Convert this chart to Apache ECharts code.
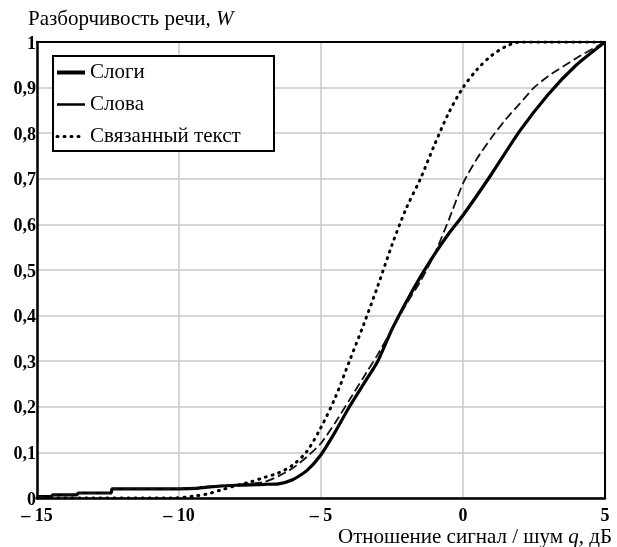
<!DOCTYPE html>
<html>
<head>
<meta charset="utf-8">
<script src="https://cdn.jsdelivr.net/npm/echarts@6/dist/echarts.min.js"></script>
<style>
html,body{margin:0;padding:0;background:#fff;}
#chart{width:617px;height:547px;}
</style>
</head>
<body>
<div id="chart"></div>
<script>
// ---- data ----
const seriesNames = ['Слоги', 'Слова', 'Связанный текст'];

const slogiX = [-15, -14.5, -14.45, -13.6, -13.55, -12.4, -12.35, -11, -10, -9.4, -9, -8, -7, -6.5, -6, -5.5, -5, -4.5, -4, -3.5, -3, -2.5, -2, -1.5, -1, -0.5, 0, 1, 2, 3, 4, 5];
const slogiY = [0.003, 0.003, 0.007, 0.007, 0.011, 0.011, 0.02, 0.02, 0.02, 0.021, 0.024, 0.028, 0.03, 0.031, 0.04, 0.06, 0.095, 0.145, 0.2, 0.25, 0.3, 0.37, 0.43, 0.485, 0.535, 0.58, 0.62, 0.71, 0.805, 0.885, 0.95, 1.0];

const slovaX = [-15, -14.5, -14.45, -13.6, -13.55, -12.4, -12.35, -11, -10, -9.4, -9, -8, -7, -6.5, -6, -5.5, -5, -4.5, -4, -3.5, -3, -2.5, -2, -1.5, -1, -0.5, 0, 0.5, 1, 1.5, 2, 2.5, 3, 4, 5];
const slovaY = [0.003, 0.003, 0.007, 0.007, 0.011, 0.011, 0.02, 0.02, 0.02, 0.022, 0.025, 0.029, 0.035, 0.048, 0.065, 0.09, 0.12, 0.165, 0.215, 0.265, 0.315, 0.37, 0.425, 0.475, 0.535, 0.61, 0.69, 0.745, 0.79, 0.83, 0.865, 0.9, 0.925, 0.965, 1.0];

const tekstX = [-15, -10.2, -9.5, -9, -8.5, -8, -7.5, -7, -6.5, -6, -5.5, -5, -4.5, -4, -3.5, -3, -2.5, -2, -1.5, -1, -0.5, 0, 0.5, 1, 1.5, 2, 3, 4, 5];
const tekstY = [0, 0, 0.004, 0.009, 0.018, 0.027, 0.035, 0.045, 0.055, 0.072, 0.102, 0.155, 0.22, 0.3, 0.38, 0.465, 0.555, 0.635, 0.7, 0.775, 0.845, 0.9, 0.94, 0.97, 0.99, 1.0, 1.0, 1.0, 1.0];

const xTickValues = [-15, -10, -5, 0, 5];
const xTickLabels = ['– 15', '– 10', '– 5', '0', '5'];
const yTickLabels = ['0', '0,1', '0,2', '0,3', '0,4', '0,5', '0,6', '0,7', '0,8', '0,9', '1'];

const yTitle = 'Разборчивость речи, ';
const yTitleVar = 'W';
const xTitle = 'Отношение сигнал / шум ';
const xTitleVar = 'q';
const xTitleUnit = ', дБ';

// ---- chart ----
const FONT = '"Liberation Serif", "Times New Roman", serif';
const FS = 21;
const pair = (xs, ys) => xs.map((x, i) => [x, ys[i]]);

const chart = echarts.init(document.getElementById('chart'), null, {renderer: 'canvas'});

const richStyle = {
  a: {fontFamily: FONT, fontSize: FS, color: '#000', fontWeight: 'normal'},
  b: {fontFamily: FONT, fontSize: FS, color: '#000', fontWeight: 'normal', fontStyle: 'italic'}
};

chart.setOption({
  animation: false,
  backgroundColor: '#fff',
  title: [
    {
      text: '{a|' + yTitle + '}{b|' + yTitleVar + '}',
      left: 28, top: 9, padding: 0,
      textStyle: {fontWeight: 'normal', fontFamily: FONT, fontSize: FS, rich: richStyle}
    },
    {
      text: '{a|' + xTitle + '}{b|' + xTitleVar + '}{a|' + xTitleUnit + '}',
      right: 5, top: 527, padding: 0,
      textStyle: {fontWeight: 'normal', fontFamily: FONT, fontSize: FS, rich: richStyle}
    }
  ],
  grid: {left: 37, right: 12, top: 42, bottom: 49, show: false},
  xAxis: [
    {
      type: 'value', min: -15, max: 5, interval: 5,
      axisLine: {show: true, onZero: false, lineStyle: {color: '#000', width: 2.5}},
      axisTick: {show: false},
      splitLine: {show: true, lineStyle: {color: '#c8c8c8', width: 1.5}},
      axisLabel: {
        margin: 9, color: '#000', fontFamily: FONT, fontSize: 18, fontWeight: 'bold',
        formatter: v => { const i = xTickValues.indexOf(Math.round(v)); return i >= 0 ? xTickLabels[i] : ''; }
      }
    },
    {
      type: 'value', position: 'top', min: -15, max: 5, interval: 5,
      axisLine: {show: true, onZero: false, lineStyle: {color: '#000', width: 2}},
      axisTick: {show: false}, axisLabel: {show: false}, splitLine: {show: false}
    }
  ],
  yAxis: [
    {
      type: 'value', min: 0, max: 1, interval: 0.1,
      axisLine: {show: true, onZero: false, lineStyle: {color: '#000', width: 2.5}},
      axisTick: {show: false},
      splitLine: {show: true, lineStyle: {color: '#c8c8c8', width: 1.5}},
      axisLabel: {
        margin: 1, color: '#000', fontFamily: FONT, fontSize: 18, fontWeight: 'bold',
        verticalAlign: 'top', padding: [-7, 0, 0, 0],
        formatter: v => yTickLabels[Math.round(v * 10)]
      }
    },
    {
      type: 'value', position: 'right', min: 0, max: 1, interval: 0.1,
      axisLine: {show: true, onZero: false, lineStyle: {color: '#000', width: 2}},
      axisTick: {show: false}, axisLabel: {show: false}, splitLine: {show: false}
    }
  ],
  graphic: [{
    type: 'rect', left: 52, top: 55, z: 10,
    shape: {width: 221, height: 95},
    style: {fill: '#fff', stroke: '#000', lineWidth: 2}
  }],
  legend: {
    z: 20,
    orient: 'vertical', left: 53, top: 60,
    padding: 2,
    itemWidth: 28, itemHeight: 14, itemGap: 11,
    itemStyle: {opacity: 0},
    textStyle: {fontFamily: FONT, fontSize: FS, color: '#000'},
    data: [
      {name: seriesNames[0], lineStyle: {width: 4, type: 'solid', color: '#000'}},
      {name: seriesNames[1], lineStyle: {width: 2.5, type: 'solid', color: '#000'}},
      {name: seriesNames[2], lineStyle: {width: 3, type: [1, 6], cap: 'round', color: '#000'}}
    ]
  },
  series: [
    {
      name: seriesNames[0], type: 'line', data: pair(slogiX, slogiY),
      symbol: 'none', smooth: 0.2, z: 3,
      lineStyle: {color: '#000', width: 3.2, join: 'round'}, itemStyle: {color: '#000'}
    },
    {
      name: seriesNames[1], type: 'line', data: pair(slovaX, slovaY),
      symbol: 'none', smooth: 0.2, z: 4,
      lineStyle: {color: '#111', width: 1.8, type: [9, 4]}, itemStyle: {color: '#000'}
    },
    {
      name: seriesNames[2], type: 'line', data: pair(tekstX, tekstY),
      symbol: 'none', smooth: 0.3, z: 5,
      lineStyle: {color: '#000', width: 3, type: [1, 6], cap: 'round'}, itemStyle: {color: '#000'}
    }
  ]
});
</script>
</body>
</html>
